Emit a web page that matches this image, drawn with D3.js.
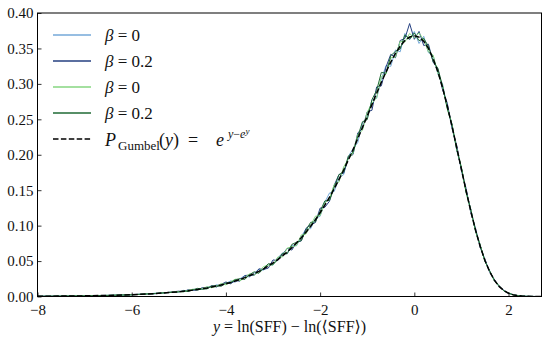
<!DOCTYPE html>
<html>
<head>
<meta charset="utf-8">
<script src="https://cdn.jsdelivr.net/npm/d3@7"></script>
<style>
  body { margin: 0; background: #fff; }
  svg { display: block; }
  text { font-family: "Liberation Serif", "DejaVu Serif", serif; fill: #111; }
</style>
</head>
<body>
<div id="chart"></div>
<script>
// bin centres y = ln(SFF) - ln(<SFF>)
var yBins = [-8, -7.5, -7, -6.5, -6, -5.5,
  -5.0, -4.9, -4.8, -4.7, -4.6, -4.5, -4.4, -4.3, -4.2, -4.1,
  -4.0, -3.9, -3.8, -3.7, -3.6, -3.5, -3.4, -3.3, -3.2, -3.1,
  -3.0, -2.9, -2.8, -2.7, -2.6, -2.5, -2.4, -2.3, -2.2, -2.1,
  -2.0, -1.9, -1.8, -1.7, -1.6, -1.5, -1.4, -1.3, -1.2, -1.1,
  -1.0, -0.9, -0.8, -0.7, -0.6, -0.5, -0.4, -0.3, -0.2, -0.1,
  0.0, 0.1, 0.2, 0.3, 0.4, 0.5, 0.6, 0.7, 0.8, 0.9,
  1.0, 1.1, 1.2, 1.3, 1.4, 1.5, 1.6, 1.7, 1.8, 1.9,
  2.0, 2.1, 2.2, 2.3, 2.4, 2.5, 2.6, 2.7];

// beta = 0 (blue set)
var blueBeta0 = [0.0003, 0.0007, 0.0008, 0.0017, 0.0024, 0.0046,
  0.0062, 0.0086, 0.0074, 0.0100, 0.0104, 0.0100, 0.0136, 0.0128, 0.0166, 0.0151,
  0.0185, 0.0220, 0.0204, 0.0251, 0.0294, 0.0275, 0.0329, 0.0385, 0.0371, 0.0446,
  0.0442, 0.0546, 0.0612, 0.0602, 0.0722, 0.0716, 0.0847, 0.0952, 0.0957, 0.1103,
  0.1132, 0.1330, 0.1461, 0.1482, 0.1675, 0.1720, 0.1977, 0.2085, 0.2174, 0.2456,
  0.2516, 0.2772, 0.2797, 0.3062, 0.3260, 0.3247, 0.3479, 0.3452, 0.3711, 0.3621,
  0.3739, 0.3570, 0.3671, 0.3440, 0.3396, 0.3140, 0.2996, 0.2668, 0.2433, 0.2062,
  0.1819, 0.1469, 0.1230, 0.0921, 0.0723, 0.0497, 0.0365, 0.0222, 0.0152, 0.0080,
  0.0049, 0.0025, 0.0011, 0.0005, 0.0002, 0.0001, 0.0000, 0.0000];

// beta = 0.2 (blue set)
var blueBeta02 = [0.0004, 0.0005, 0.0011, 0.0014, 0.0028, 0.0039,
  0.0075, 0.0068, 0.0096, 0.0087, 0.0090, 0.0126, 0.0116, 0.0154, 0.0134, 0.0171,
  0.0205, 0.0180, 0.0224, 0.0217, 0.0296, 0.0301, 0.0298, 0.0390, 0.0381, 0.0401,
  0.0516, 0.0506, 0.0592, 0.0678, 0.0655, 0.0766, 0.0784, 0.0962, 0.1012, 0.1043,
  0.1247, 0.1258, 0.1346, 0.1572, 0.1720, 0.1740, 0.1957, 0.2005, 0.2309, 0.2366,
  0.2606, 0.2627, 0.2957, 0.2972, 0.3240, 0.3417, 0.3369, 0.3612, 0.3641, 0.3851,
  0.3629, 0.3740, 0.3541, 0.3560, 0.3306, 0.3210, 0.2916, 0.2728, 0.2373, 0.2132,
  0.1774, 0.1524, 0.1180, 0.0961, 0.0688, 0.0525, 0.0342, 0.0240, 0.0138, 0.0089,
  0.0044, 0.0026, 0.0012, 0.0005, 0.0002, 0.0001, 0.0000, 0.0000];

// beta = 0 (green set)
var greenBeta0 = [0.0002, 0.0006, 0.0010, 0.0015, 0.0026, 0.0042,
  0.0070, 0.0065, 0.0088, 0.0103, 0.0092, 0.0112, 0.0138, 0.0124, 0.0143, 0.0183,
  0.0165, 0.0208, 0.0243, 0.0221, 0.0271, 0.0319, 0.0301, 0.0350, 0.0423, 0.0441,
  0.0446, 0.0556, 0.0557, 0.0683, 0.0700, 0.0721, 0.0869, 0.0882, 0.1007, 0.1133,
  0.1142, 0.1318, 0.1381, 0.1582, 0.1615, 0.1830, 0.1937, 0.2025, 0.2289, 0.2346,
  0.2601, 0.2727, 0.2807, 0.3102, 0.3140, 0.3367, 0.3379, 0.3602, 0.3591, 0.3711,
  0.3649, 0.3720, 0.3621, 0.3450, 0.3406, 0.3150, 0.2976, 0.2658, 0.2428, 0.2082,
  0.1824, 0.1464, 0.1215, 0.0924, 0.0721, 0.0497, 0.0360, 0.0224, 0.0148, 0.0081,
  0.0048, 0.0022, 0.0012, 0.0004, 0.0002, 0.0001, 0.0000, 0.0000];

// beta = 0.2 (green set)
var greenBeta02 = [0.0003, 0.0005, 0.0009, 0.0016, 0.0023, 0.0043,
  0.0065, 0.0080, 0.0070, 0.0094, 0.0115, 0.0103, 0.0108, 0.0148, 0.0151, 0.0145,
  0.0192, 0.0192, 0.0239, 0.0251, 0.0240, 0.0308, 0.0348, 0.0327, 0.0396, 0.0463,
  0.0454, 0.0516, 0.0610, 0.0603, 0.0735, 0.0766, 0.0789, 0.0937, 0.1047, 0.1053,
  0.1202, 0.1348, 0.1356, 0.1537, 0.1720, 0.1755, 0.1982, 0.2035, 0.2259, 0.2466,
  0.2496, 0.2777, 0.2907, 0.3162, 0.3150, 0.3397, 0.3459, 0.3492, 0.3691, 0.3631,
  0.3719, 0.3610, 0.3641, 0.3530, 0.3316, 0.3220, 0.2966, 0.2648, 0.2423, 0.2072,
  0.1814, 0.1474, 0.1225, 0.0926, 0.0718, 0.0495, 0.0362, 0.0225, 0.0149, 0.0080,
  0.0049, 0.0023, 0.0011, 0.0005, 0.0002, 0.0001, 0.0000, 0.0000];

// Gumbel reference curve, read at the same bins
var gumbel = [0.0003, 0.0006, 0.0009, 0.0015, 0.0025, 0.0041,
  0.0067, 0.0074, 0.0082, 0.0090, 0.0100, 0.0110, 0.0121, 0.0134, 0.0148, 0.0163,
  0.0180, 0.0198, 0.0219, 0.0241, 0.0266, 0.0293, 0.0323, 0.0355, 0.0391, 0.0431,
  0.0474, 0.0521, 0.0572, 0.0628, 0.0690, 0.0756, 0.0829, 0.0907, 0.0992, 0.1083,
  0.1182, 0.1288, 0.1401, 0.1522, 0.1650, 0.1785, 0.1927, 0.2075, 0.2229, 0.2386,
  0.2546, 0.2707, 0.2867, 0.3022, 0.3170, 0.3307, 0.3429, 0.3532, 0.3611, 0.3661,
  0.3679, 0.3660, 0.3601, 0.3500, 0.3356, 0.3170, 0.2946, 0.2688, 0.2403, 0.2102,
  0.1794, 0.1489, 0.1200, 0.0936, 0.0703, 0.0507, 0.0350, 0.0230, 0.0143, 0.0084,
  0.0046, 0.0023, 0.0011, 0.0005, 0.0002, 0.0001, 0.0000, 0.0000];

var xTicks = [-8, -6, -4, -2, 0, 2];
var yTicks = [0.00, 0.05, 0.10, 0.15, 0.20, 0.25, 0.30, 0.35, 0.40];

var series = [
  {name: "b0", values: blueBeta0, color: "#74a9d8", label: "0"},
  {name: "b02", values: blueBeta02, color: "#243f80", label: "0.2"},
  {name: "g0", values: greenBeta0, color: "#86d680", label: "0"},
  {name: "g02", values: greenBeta02, color: "#1f6a34", label: "0.2"}
];

const W = 549, H = 341;
const margin = {top: 13, right: 7.5, bottom: 44.5, left: 37.5};

var svg = d3.select("#chart").append("svg")
    .attr("width", W)
    .attr("height", H);

var xScale = d3.scaleLinear().domain([-8, 2.7]).range([margin.left, W - margin.right]);
var yScale = d3.scaleLinear().domain([0, 0.4]).range([H - margin.bottom, margin.top]);

svg.append("clipPath").attr("id", "plotclip")
  .append("rect")
    .attr("x", margin.left).attr("y", margin.top)
    .attr("width", W - margin.left - margin.right)
    .attr("height", H - margin.top - margin.bottom);

var plot = svg.append("g").attr("clip-path", "url(#plotclip)");

var line = d3.line()
    .x((d, i) => xScale(yBins[i]))
    .y(d => yScale(d));

series.forEach(s => {
  plot.append("path")
      .datum(s.values)
      .attr("fill", "none")
      .attr("stroke", s.color)
      .attr("stroke-width", 1)
      .attr("stroke-linejoin", "round")
      .attr("d", line);
});

plot.append("path")
    .datum(gumbel)
    .attr("fill", "none")
    .attr("stroke", "#000")
    .attr("stroke-width", 1.5)
    .attr("stroke-dasharray", "5.5,2.4")
    .attr("d", line);

// axes (ticks pointing in)
var xAxis = svg.append("g")
    .attr("transform", "translate(0," + (H - margin.bottom) + ")")
    .call(d3.axisBottom(xScale).tickValues(xTicks).tickSizeInner(-4).tickSizeOuter(0)
      .tickPadding(8).tickFormat(d => d < 0 ? "\u2212" + Math.abs(d) : d));

var yAxis = svg.append("g")
    .attr("transform", "translate(" + margin.left + ",0)")
    .call(d3.axisLeft(yScale).tickValues(yTicks).tickSizeInner(-4).tickSizeOuter(0)
      .tickPadding(4).tickFormat(d3.format(".2f")));

[xAxis, yAxis].forEach(a => {
  a.select(".domain").remove();
  a.selectAll("line").attr("stroke", "#000").attr("stroke-width", 0.8);
  a.selectAll("text").style("font-size", "15px").attr("fill", "#111");
});

// frame
svg.append("rect")
    .attr("x", margin.left).attr("y", margin.top)
    .attr("width", W - margin.left - margin.right)
    .attr("height", H - margin.top - margin.bottom)
    .attr("fill", "none")
    .attr("stroke", "#000")
    .attr("stroke-width", 1);

// x label
var xl = svg.append("text")
    .attr("x", (margin.left + W - margin.right) / 2)
    .attr("y", 332)
    .attr("text-anchor", "middle")
    .style("font-size", "16px");
xl.append("tspan").attr("font-style", "italic").text("y");
xl.append("tspan").text(" = ln(SFF) \u2212 ln(\u27E8SFF\u27E9)");

// legend
var legend = svg.append("g");
var rowY = [35, 61, 87, 113, 139];

series.forEach((s, i) => {
  legend.append("line")
      .attr("x1", 53).attr("x2", 91)
      .attr("y1", rowY[i]).attr("y2", rowY[i])
      .attr("stroke", s.color).attr("stroke-width", 1.3);
  var t = legend.append("text")
      .attr("x", 105).attr("y", rowY[i] + 6)
      .style("font-size", "17px");
  t.append("tspan").attr("font-style", "italic").text("\u03B2");
  t.append("tspan").text(" = " + s.label);
});

legend.append("line")
    .attr("x1", 53).attr("x2", 91)
    .attr("y1", rowY[4]).attr("y2", rowY[4])
    .attr("stroke", "#000").attr("stroke-width", 1.5)
    .attr("stroke-dasharray", "5.5,2.4");

var g = legend.append("text")
    .attr("y", rowY[4] + 7)
    .style("font-size", "18px");
g.append("tspan").attr("x", 105).attr("font-style", "italic").text("P");
g.append("tspan").attr("x", 118).style("font-size", "13px").attr("dy", 4).text("Gumbel");
g.append("tspan").attr("x", 159).attr("dy", -4).text("(");
g.append("tspan").attr("font-style", "italic").text("y");
g.append("tspan").text(")");
g.append("tspan").attr("x", 188).text("=");
g.append("tspan").attr("x", 216).attr("font-style", "italic").text("e");
g.append("tspan").attr("x", 228).style("font-size", "12px").attr("font-style", "italic").attr("dy", -8).text("y");
g.append("tspan").style("font-size", "12px").text("\u2212");
g.append("tspan").style("font-size", "12px").attr("font-style", "italic").text("e");
g.append("tspan").style("font-size", "9px").attr("font-style", "italic").attr("dy", -4).text("y");
</script>
</body>
</html>
